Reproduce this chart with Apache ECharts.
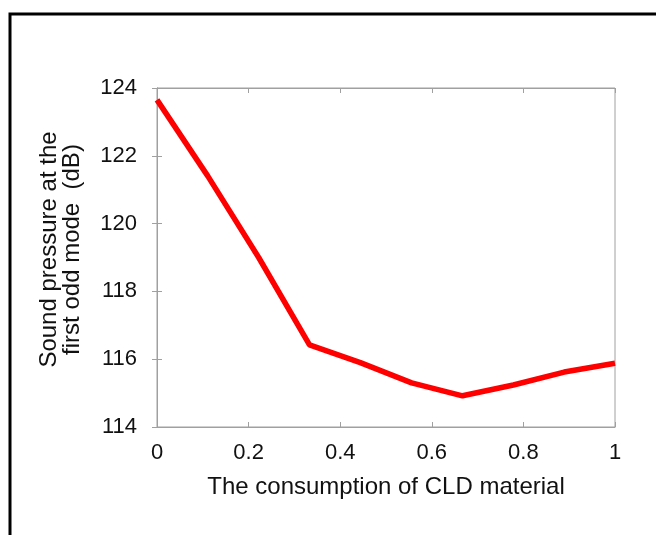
<!DOCTYPE html>
<html>
<head>
<meta charset="utf-8">
<script src="https://cdn.jsdelivr.net/npm/echarts@6/dist/echarts.min.js"></script>
<style>
html,body{margin:0;padding:0;background:#fff;}
#main{width:656px;height:535px;}
</style>
</head>
<body>
<div id="main"></div>
<script>
// data
var xValues = [0, 0.111, 0.222, 0.333, 0.444, 0.556, 0.667, 0.778, 0.889, 1];
var soundPressure = [123.65, 121.4, 119.0, 116.42, 115.9, 115.3, 114.92, 115.24, 115.62, 115.88];
var xTitle = 'The consumption of CLD material';
var yTitle = 'Sound pressure at the\nfirst odd mode  (dB)';

var pts = [];
for (var i = 0; i < xValues.length; i++) {
	pts.push([xValues[i], soundPressure[i]]);
}

var axisGray = '#a0a0a0';
var font = '"Liberation Sans", Arial, sans-serif';

var chart = echarts.init(document.getElementById('main'));
var option = {
	backgroundColor: '#fff',
	animation: false,
	graphic: [{
		type: 'rect',
		shape: {x: 10, y: 14, width: 700, height: 600},
		style: {fill: 'none', stroke: '#000', lineWidth: 3}
	}],
	grid: {left: 157, top: 88, right: 41, bottom: 108, show: true, borderColor: axisGray, borderWidth: 1},
	xAxis: [{
		type: 'value', min: 0, max: 1, interval: 0.2,
		name: xTitle, nameLocation: 'middle', nameGap: 48,
		nameTextStyle: {fontFamily: font, fontSize: 24, color: '#111'},
		axisLine: {show: true, lineStyle: {color: axisGray}},
		axisTick: {show: true, inside: true, length: 5, lineStyle: {color: axisGray}},
		axisLabel: {fontFamily: font, fontSize: 22, color: '#111', margin: 15},
		splitLine: {show: false}
	}, {
		type: 'value', min: 0, max: 1, interval: 0.2, position: 'top',
		axisLine: {show: true, lineStyle: {color: axisGray}},
		axisTick: {show: true, inside: true, length: 5, lineStyle: {color: axisGray}},
		axisLabel: {show: false},
		splitLine: {show: false}
	}],
	yAxis: [{
		type: 'value', min: 114, max: 124, interval: 2,
		name: yTitle, nameLocation: 'middle', nameGap: 73,
		nameTextStyle: {fontFamily: font, fontSize: 24, color: '#111', lineHeight: 23, padding: [0, 0, 0, 16]},
		axisLine: {show: true, lineStyle: {color: axisGray}},
		axisTick: {show: true, inside: true, length: 5, lineStyle: {color: axisGray}},
		axisLabel: {fontFamily: font, fontSize: 22, color: '#111', margin: 20},
		splitLine: {show: false}
	}, {
		type: 'value', min: 114, max: 124, interval: 2, position: 'right',
		axisLine: {show: true, lineStyle: {color: axisGray}},
		axisTick: {show: true, inside: true, length: 5, lineStyle: {color: axisGray}},
		axisLabel: {show: false},
		splitLine: {show: false}
	}],
	series: [{
		type: 'line',
		data: pts,
		symbol: 'none',
		lineStyle: {color: '#f00', width: 5.5},
		itemStyle: {color: '#f00'}
	}]
};
chart.setOption(option);
</script>
</body>
</html>
